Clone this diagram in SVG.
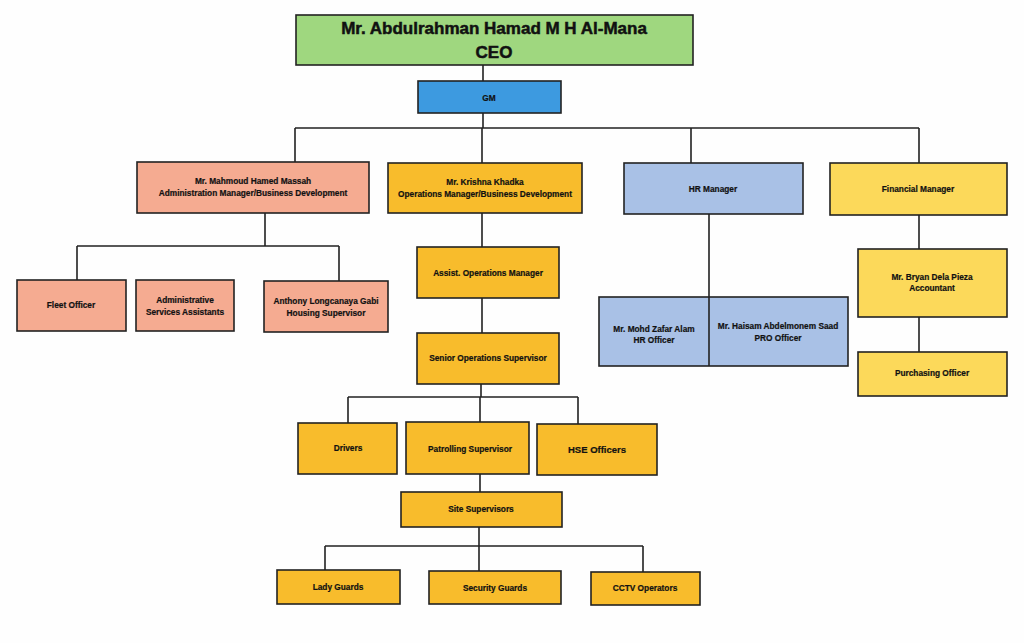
<svg xmlns="http://www.w3.org/2000/svg" width="1024" height="643" viewBox="0 0 1024 643">
<style>
.b{stroke:#222;stroke-width:1.6}
.g{fill:#9fd77f}.bl{fill:#3d9ae0}.s{fill:#f5ab91}.o{fill:#f8bc2c}.h{fill:#a9c1e6}.y{fill:#fcd95a}
text{font-family:"Liberation Sans",Arial,sans-serif;font-weight:bold;fill:#111;stroke:#111;stroke-width:0.2;text-anchor:middle;font-size:8.3px}
.big{font-size:17px;stroke-width:0.5}
.md{font-size:9.5px}
#connectors path{fill:none;stroke:#222;stroke-width:1.6}
</style>
<rect width="1024" height="643" fill="#fefefe"/>
<g id="connectors">
<path d="M483 65V81M483 113V128M295 128H919M295 128V162M482 128V163M691 128V163M919 128V163"/>
<path d="M265 213V246M77 246H339M77 246V280M339 246V281"/>
<path d="M482 213V247M482 298V333M481 384V397M348 397H578M348 397V423M578 397V424M480 397V422M480 474V492M479 527V546M325 546H643M325 546V570M643 546V572M479 546V571"/>
<path d="M709 214V297M919 215V249M919 317V352"/>
</g>
<g id="ceo"><rect class="b g" x="296" y="15" width="397" height="50"/><text class="big" x="494" y="34">Mr. Abdulrahman Hamad M H Al-Mana</text><text class="big" x="494" y="58">CEO</text></g>
<g id="gm"><rect class="b bl" x="418" y="81" width="143" height="32"/><text x="489" y="101">GM</text></g>
<g id="admin"><rect class="b s" x="137" y="162" width="232" height="51"/><text x="253" y="184">Mr. Mahmoud Hamed Massah</text><text x="253" y="196">Administration Manager/Business Development</text></g>
<g id="opsmgr"><rect class="b o" x="388" y="163" width="194" height="50"/><text x="485" y="185">Mr. Krishna Khadka</text><text x="485" y="197">Operations Manager/Business Development</text></g>
<g id="hrmgr"><rect class="b h" x="624" y="163" width="179" height="51"/><text x="713" y="192">HR Manager</text></g>
<g id="finmgr"><rect class="b y" x="830" y="163" width="177" height="52"/><text x="918" y="192">Financial Manager</text></g>
<g id="fleet"><rect class="b s" x="17" y="280" width="109" height="51"/><text x="71" y="308">Fleet Officer</text></g>
<g id="adminsvc"><rect class="b s" x="136" y="280" width="98" height="51"/><text x="185" y="303">Administrative</text><text x="185" y="315">Services Assistants</text></g>
<g id="housing"><rect class="b s" x="264" y="281" width="124" height="51"/><text x="326" y="304">Anthony Longcanaya Gabi</text><text x="326" y="316">Housing Supervisor</text></g>
<g id="hrofficers"><rect class="b h" x="599" y="297" width="249" height="69"/><path class="b" d="M709 297V366"/><text x="654" y="332">Mr. Mohd Zafar Alam</text><text x="654" y="343">HR Officer</text><text x="778" y="329">Mr. Haisam Abdelmonem Saad</text><text x="778" y="341">PRO Officer</text></g>
<g id="accountant"><rect class="b y" x="858" y="249" width="149" height="68"/><text x="932" y="280">Mr. Bryan Dela Pieza</text><text x="932" y="291">Accountant</text></g>
<g id="purchasing"><rect class="b y" x="858" y="352" width="149" height="44"/><text x="932" y="376">Purchasing Officer</text></g>
<g id="assistops"><rect class="b o" x="417" y="247" width="142" height="51"/><text x="488" y="276">Assist. Operations Manager</text></g>
<g id="senior"><rect class="b o" x="417" y="333" width="142" height="51"/><text x="488" y="361">Senior Operations Supervisor</text></g>
<g id="drivers"><rect class="b o" x="298" y="423" width="99" height="51"/><text x="348" y="451">Drivers</text></g>
<g id="patrolling"><rect class="b o" x="406" y="422" width="123" height="52"/><text x="470" y="452">Patrolling Supervisor</text></g>
<g id="hse"><rect class="b o" x="537" y="424" width="120" height="51"/><text class="md" x="597" y="453">HSE Officers</text></g>
<g id="site"><rect class="b o" x="401" y="492" width="161" height="35"/><text x="481" y="512">Site Supervisors</text></g>
<g id="lady"><rect class="b o" x="277" y="570" width="123" height="34"/><text x="338" y="590">Lady Guards</text></g>
<g id="security"><rect class="b o" x="429" y="571" width="132" height="33"/><text x="495" y="591">Security Guards</text></g>
<g id="cctv"><rect class="b o" x="591" y="572" width="109" height="33"/><text x="645" y="591">CCTV Operators</text></g>
</svg>
